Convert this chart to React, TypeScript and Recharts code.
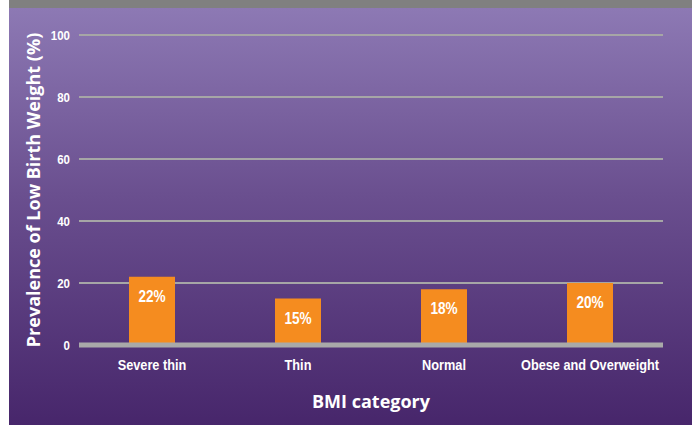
import { Bar, BarChart, CartesianGrid, LabelList, XAxis, YAxis } from "recharts";

const categories = ["Severe thin", "Thin", "Normal", "Obese and Overweight"];
const prevalence = [22, 15, 18, 20];
const yTicks = [0, 20, 40, 60, 80, 100];

const data = categories.map((c, i) => ({ category: c, value: prevalence[i] }));

const narrow = "'Liberation Sans', Arial, sans-serif";
const wide = "'Open Sans', 'Noto Sans', sans-serif";
const squeeze = 0.85; // fake a condensed face

// x ticks, squeezed horizontally
const XTick = ({ x, y, payload }: any) => (
  <text
    transform={`translate(${x},${y}) scale(${squeeze},1)`}
    textAnchor="middle"
    dy={13}
    fill="#ffffff"
    fontSize={15}
    fontWeight={700}
    fontFamily={narrow}
  >
    {payload.value}
  </text>
);

const YTick = ({ x, y, payload }: any) => (
  <text
    transform={`translate(${x},${y}) scale(${squeeze},1)`}
    textAnchor="end"
    dy={5}
    fill="#ffffff"
    fontSize={13.5}
    fontWeight={700}
    fontFamily={narrow}
  >
    {payload.value}
  </text>
);

const BarLabel = ({ x, y, width, value }: any) => (
  <text
    transform={`translate(${x + width / 2},${y + 25}) scale(${squeeze},1)`}
    textAnchor="middle"
    fill="#ffffff"
    fontSize={16}
    fontWeight={700}
    fontFamily={narrow}
  >
    {`${value}%`}
  </text>
);

export default function App() {
  return (
    <div style={{ position: "absolute", left: 9, top: 0, width: 683, height: 425 }}>
      <div style={{ height: 8, background: "#808080" }} />
      <div
        style={{
          position: "relative",
          width: 683,
          height: 417,
          background: "linear-gradient(to bottom, #8d79b4 0%, #6a4f8f 45%, #47266b 100%)",
        }}
      >
        <BarChart
          width={683}
          height={417}
          data={data}
          margin={{ top: 27, right: 29, bottom: 0, left: 0 }}
          barSize={46}
        >
          <CartesianGrid vertical={false} stroke="#a6a6a6" strokeWidth={2} />
          <XAxis
            dataKey="category"
            height={80}
            tickLine={false}
            axisLine={{ stroke: "#a9a9a9", strokeWidth: 5 }}
            tickMargin={6}
            tick={<XTick />}
            interval={0}
            label={{
              value: "BMI category",
              position: "insideBottom",
              offset: 17,
              fill: "#ffffff",
              fontSize: 18,
              fontWeight: 700,
              fontFamily: wide,
            }}
          />
          <YAxis
            width={70}
            domain={[0, 100]}
            ticks={yTicks}
            tickLine={false}
            axisLine={false}
            tickSize={0}
            tickMargin={9}
            tick={<YTick />}
            label={{
              value: "Prevalence of Low Birth Weight (%)",
              angle: -90,
              position: "insideLeft",
              offset: 25,
              fill: "#ffffff",
              fontSize: 18,
              fontWeight: 700,
              fontFamily: wide,
              style: { textAnchor: "middle" },
            }}
          />
          <Bar dataKey="value" fill="#f58c1f" isAnimationActive={false}>
            <LabelList dataKey="value" content={<BarLabel />} />
          </Bar>
        </BarChart>
      </div>
    </div>
  );
}
